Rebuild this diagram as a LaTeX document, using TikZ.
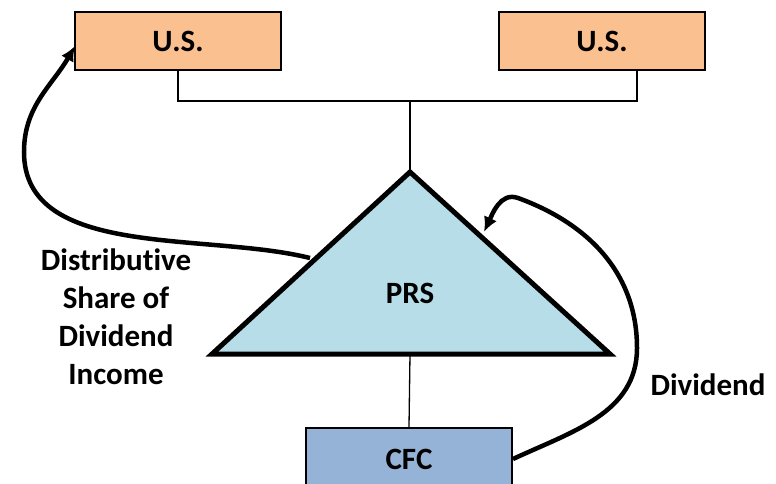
\documentclass[tikz,border=0pt]{standalone}
\usepackage{fontspec}
\setmainfont{Carlito}[Ligatures={NoCommon}]
\usepackage{tikz}
\usetikzlibrary{arrows.meta,positioning,calc}

\definecolor{usorange}{HTML}{FAC08F}
\definecolor{prsblue}{HTML}{B7DEE8}
\definecolor{cfcblue}{HTML}{95B3D7}

\begin{document}
\begin{tikzpicture}[
    x=1pt,y=-1pt,
    font=\fontsize{31}{38}\selectfont\bfseries,
    entity/.style={draw=black,line width=2pt,fill=#1,minimum width=206pt,minimum height=58pt,inner sep=0pt},
    label/.style={align=center,inner sep=0pt},
    link/.style={line width=1.3pt,draw=black},
    flow/.style={-{Latex[length=15pt,width=14pt]},line width=4.5pt,draw=black}
  ]
    \clip (0,0) rectangle (776,484);

    % owners
    \node[entity=usorange] (usleft) at (178,41) {U.S.};
    \node[entity=usorange] (usright) at (602,41) {U.S.};

    % partnership
    \coordinate (apex) at (410,172);
    \coordinate (baseleft) at (212,354);
    \coordinate (baseright) at (610,354);
    \draw[fill=prsblue,line width=5pt,line join=miter] (apex) -- (baseright) -- (baseleft) -- cycle;
    \node[label] (prs) at (410,293) {PRS};
    \coordinate (basemid) at (410,354);

    % subsidiary
    \node[entity=cfcblue,minimum height=62pt] (cfc) at (409,459) {CFC};

    % ownership lines
    \coordinate (bar) at (410,101);
    \coordinate (usrtap) at (637,70);
    \draw[link] (usleft.south) |- (bar) -| (usrtap);
    \draw[link] (bar) -- (apex);
    \draw[link] (basemid) -- (cfc.north);

    % income flows
    \coordinate (shareout) at (310,258);
    \coordinate (sharebend) at (24,152);
    \coordinate (sharein) at (75,46);
    \draw[flow] (shareout) to[out=166,in=270,looseness=0.9] (sharebend) to[out=90,in=240] (sharein);

    \coordinate (divbend) at (637,348);
    \coordinate (divtop) at (518,198);
    \coordinate (divin) at (484,232);
    \draw[flow] (cfc.east) to[out=25,in=270] (divbend) to[out=90,in=-20] (divtop) to[out=160,in=65] (divin);

    \node[label] (sharetext) at (116,317) {Distributive\\Share of\\Dividend\\Income};
    \node[label] (divtext) at (708,385) {Dividend};
\end{tikzpicture}
\end{document}
